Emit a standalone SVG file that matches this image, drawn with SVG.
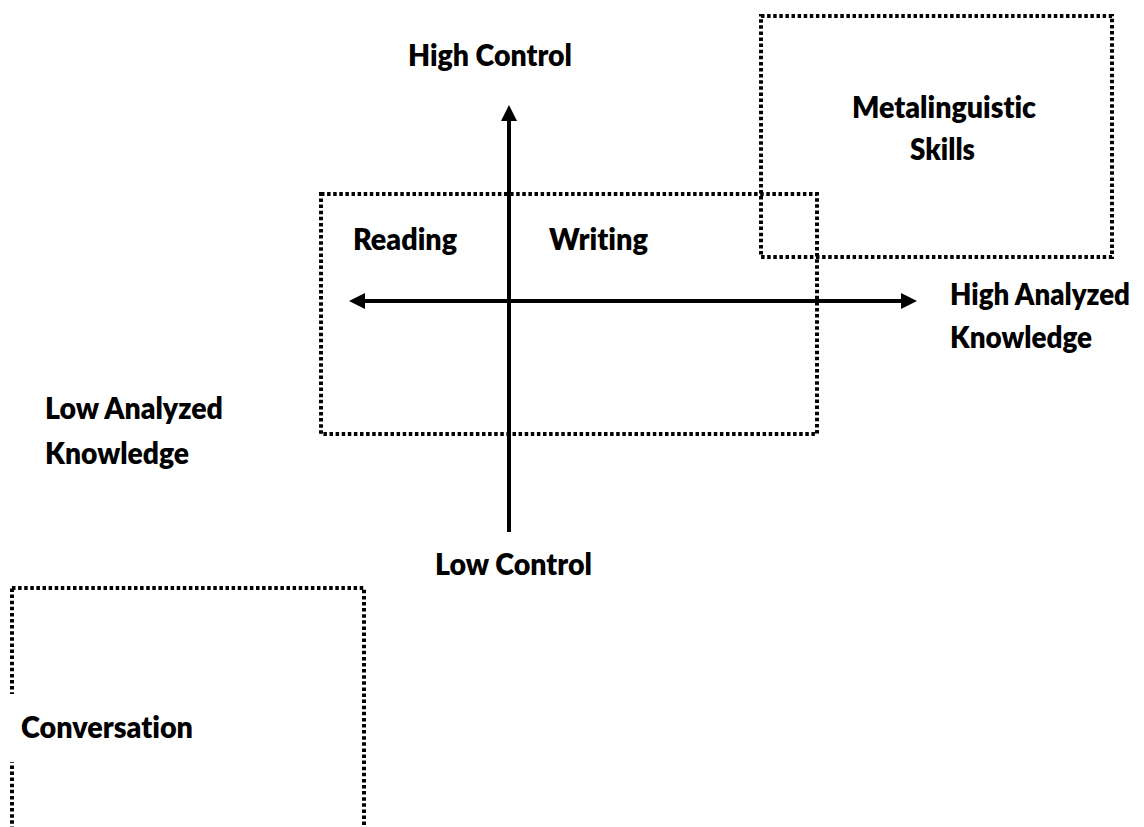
<svg xmlns="http://www.w3.org/2000/svg" width="1144" height="827" viewBox="0 0 1144 827">
  <style>
    .lbl { font-family: Lato, "Open Sans", "Liberation Sans", sans-serif; font-weight: 800; font-size: 30px; fill: #000; font-variant-ligatures: none; }
    .box { fill: none; stroke: #000; stroke-width: 4; stroke-dasharray: 3.5 2.6; }
    .axis { stroke: #000; stroke-width: 4; fill: none; }
  </style>
  <defs>
    <marker id="arrow" markerUnits="userSpaceOnUse" viewBox="0 0 16 16" markerWidth="16" markerHeight="16" refX="0" refY="8" orient="auto-start-reverse">
      <path d="M0,0 L16,8 L0,16 Z" fill="#000"/>
    </marker>
  </defs>
  <rect width="1144" height="827" fill="#fff"/>

  <g id="node-center-box">
    <rect class="box" x="321" y="194" width="496" height="240"/>
  </g>
  <g id="node-metalinguistic">
    <rect class="box" x="761" y="16" width="351" height="241"/>
    <text class="lbl" x="852" y="118" textLength="184" lengthAdjust="spacingAndGlyphs">Metalinguistic</text>
    <text class="lbl" x="910" y="160" textLength="65" lengthAdjust="spacingAndGlyphs">Skills</text>
  </g>
  <g id="node-conversation">
    <rect class="box" x="12" y="588" width="352" height="260"/>
    <rect x="6" y="694" width="190" height="68" fill="#fff"/>
    <text class="lbl" x="21" y="738" textLength="172" lengthAdjust="spacingAndGlyphs">Conversation</text>
  </g>

  <g id="connectors">
    <line class="axis" x1="509" y1="532" x2="509" y2="121" marker-end="url(#arrow)"/>
    <line class="axis" x1="365" y1="301" x2="901" y2="301" marker-start="url(#arrow)" marker-end="url(#arrow)"/>
  </g>

  <g id="node-high-control"><text class="lbl" x="408" y="66" textLength="164" lengthAdjust="spacingAndGlyphs">High Control</text></g>
  <g id="node-low-control"><text class="lbl" x="435" y="575" textLength="157" lengthAdjust="spacingAndGlyphs">Low Control</text></g>
  <g id="node-high-analyzed">
    <text class="lbl" x="950" y="305" textLength="180" lengthAdjust="spacingAndGlyphs">High Analyzed</text>
    <text class="lbl" x="950" y="348" textLength="142" lengthAdjust="spacingAndGlyphs">Knowledge</text>
  </g>
  <g id="node-low-analyzed">
    <text class="lbl" x="45" y="419" textLength="178" lengthAdjust="spacingAndGlyphs">Low Analyzed</text>
    <text class="lbl" x="45" y="464" textLength="144" lengthAdjust="spacingAndGlyphs">Knowledge</text>
  </g>
  <g id="node-reading"><text class="lbl" x="353" y="250" textLength="104" lengthAdjust="spacingAndGlyphs">Reading</text></g>
  <g id="node-writing"><text class="lbl" x="549" y="250" textLength="99" lengthAdjust="spacingAndGlyphs">Writing</text></g>
</svg>
